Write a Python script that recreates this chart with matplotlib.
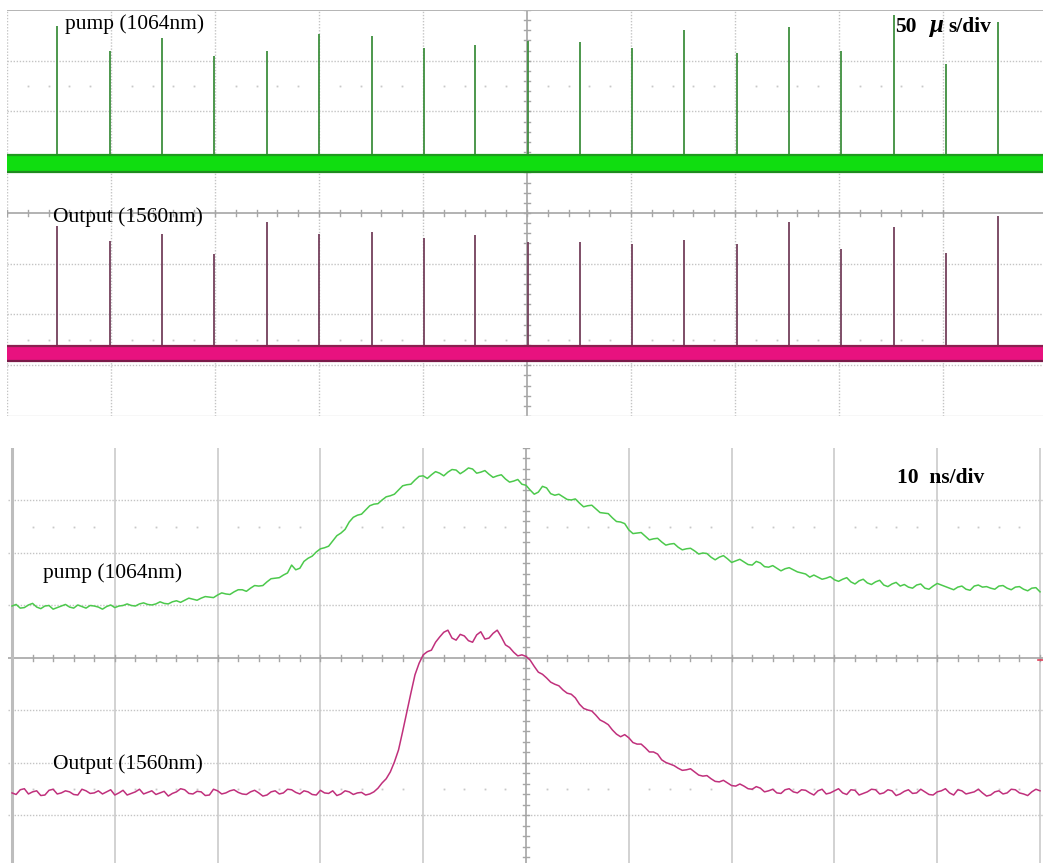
import numpy as np
import matplotlib
matplotlib.use("Agg")
import matplotlib.pyplot as plt

# ---------------- 50 us/div record: pulse trains ----------------
pulse_times_us = [-226.0, -200.5, -175.5, -150.5, -125.0, -100.0, -74.5, -49.5,
                  -25.0, 0.5, 25.5, 50.5, 75.5, 101.0, 126.0, 151.0, 176.4,
                  201.4, 226.4]
pump_peaks_div = [3.69, 3.20, 3.45, 3.10, 3.20, 3.53, 3.49, 3.25, 3.31, 3.39,
                  3.37, 3.25, 3.61, 3.16, 3.67, 3.20, 3.90, 2.94, 3.76]
output_peaks_div = [-0.25, -0.55, -0.41, -0.80, -0.18, -0.41, -0.37, -0.49,
                    -0.43, -0.57, -0.57, -0.61, -0.53, -0.61, -0.18, -0.71,
                    -0.27, -0.78, -0.06]
pump_level_div = 0.98
pump_noise_band_div = [0.81, 1.15]
output_level_div = -2.78
output_noise_band_div = [-2.92, -2.63]

# ---------------- 10 ns/div record: single pulse (0.4 ns per sample) ----------------
pump_trace_div = [
    0.99, 1.02, 0.95, 0.96, 1.01, 1.04, 0.97, 0.94, 0.99, 1.00,
    0.93, 0.96, 0.99, 1.02, 0.97, 0.95, 1.01, 0.98, 0.95, 1.00,
    0.99, 0.97, 0.93, 0.98, 1.01, 0.96, 0.99, 1.00, 1.03, 1.00,
    0.99, 1.03, 1.05, 1.02, 1.01, 1.03, 1.07, 1.04, 1.03, 1.07,
    1.09, 1.06, 1.10, 1.14, 1.12, 1.10, 1.14, 1.17, 1.16, 1.15,
    1.20, 1.24, 1.22, 1.21, 1.26, 1.30, 1.30, 1.27, 1.33, 1.38,
    1.37, 1.38, 1.45, 1.51, 1.52, 1.53, 1.58, 1.62, 1.77, 1.68,
    1.71, 1.84, 1.90, 1.94, 2.02, 2.08, 2.10, 2.13, 2.23, 2.33,
    2.38, 2.45, 2.59, 2.68, 2.72, 2.74, 2.82, 2.90, 2.93, 2.94,
    3.01, 3.07, 3.09, 3.12, 3.20, 3.28, 3.30, 3.31, 3.39, 3.46,
    3.47, 3.42, 3.49, 3.55, 3.52, 3.47, 3.54, 3.59, 3.58, 3.51,
    3.56, 3.62, 3.60, 3.52, 3.54, 3.57, 3.50, 3.44, 3.47, 3.49,
    3.41, 3.35, 3.37, 3.40, 3.31, 3.29, 3.20, 3.12, 3.16, 3.27,
    3.24, 3.13, 3.10, 3.12, 3.07, 3.02, 3.01, 3.03, 2.95, 2.88,
    2.90, 2.91, 2.84, 2.77, 2.76, 2.75, 2.67, 2.60, 2.59, 2.56,
    2.44, 2.37, 2.38, 2.39, 2.32, 2.25, 2.27, 2.28, 2.21, 2.15,
    2.17, 2.18, 2.11, 2.06, 2.08, 2.09, 2.04, 1.98, 2.00, 1.99,
    1.92, 1.87, 1.92, 1.95, 1.89, 1.82, 1.85, 1.88, 1.83, 1.78,
    1.77, 1.84, 1.81, 1.74, 1.73, 1.76, 1.71, 1.66, 1.70, 1.72,
    1.68, 1.64, 1.62, 1.60, 1.54, 1.58, 1.54, 1.50, 1.52, 1.55,
    1.49, 1.46, 1.50, 1.53, 1.45, 1.41, 1.47, 1.50, 1.43, 1.40,
    1.45, 1.48, 1.39, 1.36, 1.41, 1.44, 1.37, 1.40, 1.35, 1.33,
    1.39, 1.41, 1.33, 1.31, 1.37, 1.42, 1.39, 1.36, 1.33, 1.30,
    1.35, 1.37, 1.31, 1.29, 1.37, 1.39, 1.35, 1.36, 1.33, 1.31,
    1.37, 1.38, 1.33, 1.30, 1.35, 1.36, 1.31, 1.28, 1.33, 1.34,
    1.26,
]
output_trace_div = [
    -2.57, -2.60, -2.51, -2.49, -2.59, -2.55, -2.53, -2.62, -2.61, -2.52,
    -2.50, -2.59, -2.57, -2.53, -2.55, -2.60, -2.61, -2.50, -2.53, -2.58,
    -2.57, -2.53, -2.59, -2.55, -2.51, -2.61, -2.57, -2.52, -2.61, -2.58,
    -2.55, -2.50, -2.59, -2.56, -2.53, -2.60, -2.57, -2.54, -2.63, -2.58,
    -2.55, -2.49, -2.51, -2.58, -2.59, -2.54, -2.55, -2.62, -2.61, -2.50,
    -2.53, -2.59, -2.57, -2.53, -2.51, -2.56, -2.59, -2.60, -2.55, -2.52,
    -2.57, -2.63, -2.61, -2.55, -2.53, -2.59, -2.57, -2.50, -2.51, -2.56,
    -2.59, -2.53, -2.55, -2.60, -2.61, -2.52, -2.57, -2.58, -2.53, -2.62,
    -2.59, -2.53, -2.55, -2.60, -2.57, -2.56, -2.61, -2.59, -2.55, -2.48,
    -2.38, -2.30, -2.17, -1.98, -1.75, -1.40, -1.03, -0.67, -0.32, -0.10,
    0.06, 0.12, 0.15, 0.30, 0.40, 0.49, 0.53, 0.38, 0.34, 0.45,
    0.42, 0.33, 0.30, 0.44, 0.50, 0.36, 0.38, 0.47, 0.53, 0.40,
    0.25, 0.20, 0.11, 0.04, 0.06, 0.03, -0.04, -0.16, -0.27, -0.31,
    -0.38, -0.46, -0.50, -0.53, -0.61, -0.67, -0.69, -0.76, -0.88, -0.96,
    -0.99, -1.01, -1.09, -1.18, -1.22, -1.27, -1.37, -1.45, -1.50, -1.46,
    -1.52, -1.61, -1.64, -1.64, -1.71, -1.79, -1.79, -1.83, -1.94, -1.99,
    -2.02, -2.05, -2.10, -2.14, -2.13, -2.11, -2.17, -2.23, -2.25, -2.24,
    -2.30, -2.35, -2.36, -2.33, -2.38, -2.43, -2.44, -2.40, -2.44, -2.49,
    -2.50, -2.45, -2.48, -2.55, -2.53, -2.50, -2.57, -2.58, -2.51, -2.49,
    -2.55, -2.57, -2.51, -2.52, -2.57, -2.61, -2.53, -2.50, -2.59, -2.57,
    -2.53, -2.49, -2.57, -2.60, -2.51, -2.52, -2.61, -2.58, -2.55, -2.50,
    -2.51, -2.59, -2.57, -2.51, -2.53, -2.62, -2.59, -2.54, -2.51, -2.58,
    -2.57, -2.50, -2.55, -2.60, -2.61, -2.55, -2.53, -2.49, -2.57, -2.61,
    -2.51, -2.53, -2.59, -2.57, -2.55, -2.50, -2.57, -2.63, -2.61, -2.55,
    -2.53, -2.59, -2.57, -2.50, -2.51, -2.57, -2.59, -2.62, -2.55, -2.50,
    -2.53,
]
time_ns = np.linspace(-50.0, 50.0, len(pump_trace_div))

W, H = 1043, 863
fig = plt.figure(figsize=(W / 100, H / 100), dpi=100)
fig.patch.set_facecolor("white")

GRID = "#c4c4c4"
AXIS = "#a6a6a6"


def graticule(ax, tdiv, x_lo_div, x_hi_div, y_lo_div, solid_vertical):
    """Scope-style grid: tdiv is the time per division."""
    ax.set_axis_off()
    for k in range(x_lo_div, x_hi_div + 1):
        if k == 0:
            continue
        t = k * tdiv
        if solid_vertical:
            ax.axvline(t, color="#d2d2d2", lw=1.4, zorder=0)
        else:
            ax.axvline(t, color=GRID, lw=1.0, ls=(0, (1, 1.2)), zorder=0)
    for v in (-3, -2, -1, 1, 2, 3):
        ax.axhline(v, color=GRID, lw=1.0, ls=(0, (1, 1.2)), zorder=0)
    # dotted marker rows at +/-2.5 div
    for v in (-2.5, 2.5):
        xs = [k * tdiv / 5 for k in range(x_lo_div * 5, x_hi_div * 5 + 1) if k % 5]
        ax.plot(xs, [v] * len(xs), ls="none", marker="s", ms=1.3,
                color="#c8c8c8", mec="none", zorder=0)
    # centre axes with minor ticks
    ax.axhline(0, color=AXIS, lw=1.2, zorder=0)
    ax.axvline(0, color=AXIS, lw=1.2, zorder=0)
    xt = [k * tdiv / 5 for k in range(x_lo_div * 5, x_hi_div * 5 + 1)]
    for t in xt:
        ax.plot([t, t], [-0.06, 0.06], color=AXIS, lw=1.0, zorder=0)
    span = (x_hi_div - x_lo_div) * tdiv
    for k in range(int(y_lo_div * 5), 21):
        y = k / 5
        ax.plot([-span * 0.0028, span * 0.0028], [y, y], color=AXIS, lw=1.0, zorder=0)


# ---------------- top: pulse trains ----------------
ax1 = fig.add_axes([7 / W, 1 - 416 / H, (W - 7) / W, 406 / H])
ax1.set_xlim(-250, 248.1)
ax1.set_ylim(-4, 4)
graticule(ax1, 50, -5, 4, -4, solid_vertical=False)
ax1.axhline(4, color="#b4b4b4", lw=1.4, zorder=0)
ax1.axhline(-4, color="#d8d8d8", lw=1.0, zorder=0)

ax1.vlines(pulse_times_us, pump_level_div, pump_peaks_div, color="#3e8f3e", lw=1.3, zorder=2)
ax1.fill_between([-252, 250], pump_noise_band_div[0], pump_noise_band_div[1],
                 color="#10dd10", lw=0, zorder=3)
ax1.plot([-252, 250], [pump_noise_band_div[1]] * 2, color="#1f9a1f", lw=1.6, zorder=3)
ax1.plot([-252, 250], [pump_noise_band_div[0]] * 2, color="#1f8a1f", lw=1.6, zorder=3)

ax1.vlines(pulse_times_us, output_level_div, output_peaks_div, color="#74405c", lw=1.3, zorder=2)
ax1.fill_between([-252, 250], output_noise_band_div[0], output_noise_band_div[1],
                 color="#e8127f", lw=0, zorder=3)
ax1.plot([-252, 250], [output_noise_band_div[1]] * 2, color="#8a2050", lw=1.6, zorder=3)
ax1.plot([-252, 250], [output_noise_band_div[0]] * 2, color="#7a1a48", lw=1.6, zorder=3)

# ---------------- bottom: single pulse ----------------
ax2 = fig.add_axes([8 / W, 0, (W - 8) / W, (H - 448) / H])
ax2.set_xlim(-50.39, 50.29)
ax2.set_ylim(-3.905, 4)
graticule(ax2, 10, -5, 5, -4, solid_vertical=True)
ax2.axvline(-50, color="#bdbdbd", lw=2.2, zorder=0)
ax2.plot([49.8, 50.3], [-0.04, -0.04], color="#e0405a", lw=1.2, zorder=1)

ax2.plot(time_ns, pump_trace_div, color="#4cc94c", lw=1.1, zorder=2)
ax2.plot(time_ns, output_trace_div, color="#c0307c", lw=1.1, zorder=2)

# ---------------- labels ----------------
serif = ["Liberation Serif", "DejaVu Serif"]


def label(x, y, s, **kw):
    fig.text(x / W, 1 - y / H, s, family=serif, ha="left", va="baseline", **kw)


label(65, 29, "pump (1064nm)", fontsize=15.5)
label(53, 222, "Output (1560nm)", fontsize=15.5)
label(895, 32, "50", fontsize=15.5, fontweight="bold")
label(929, 32, "\u03bc", fontsize=18, fontweight="bold", fontstyle="italic")
label(948, 32, "s/div", fontsize=15.5, fontweight="bold")
label(43, 578, "pump (1064nm)", fontsize=15.5)
label(53, 769, "Output (1560nm)", fontsize=15.5)
label(897, 483, "10  ns/div", fontsize=15.5, fontweight="bold")

fig.savefig("out.png", dpi=100, facecolor="white")
